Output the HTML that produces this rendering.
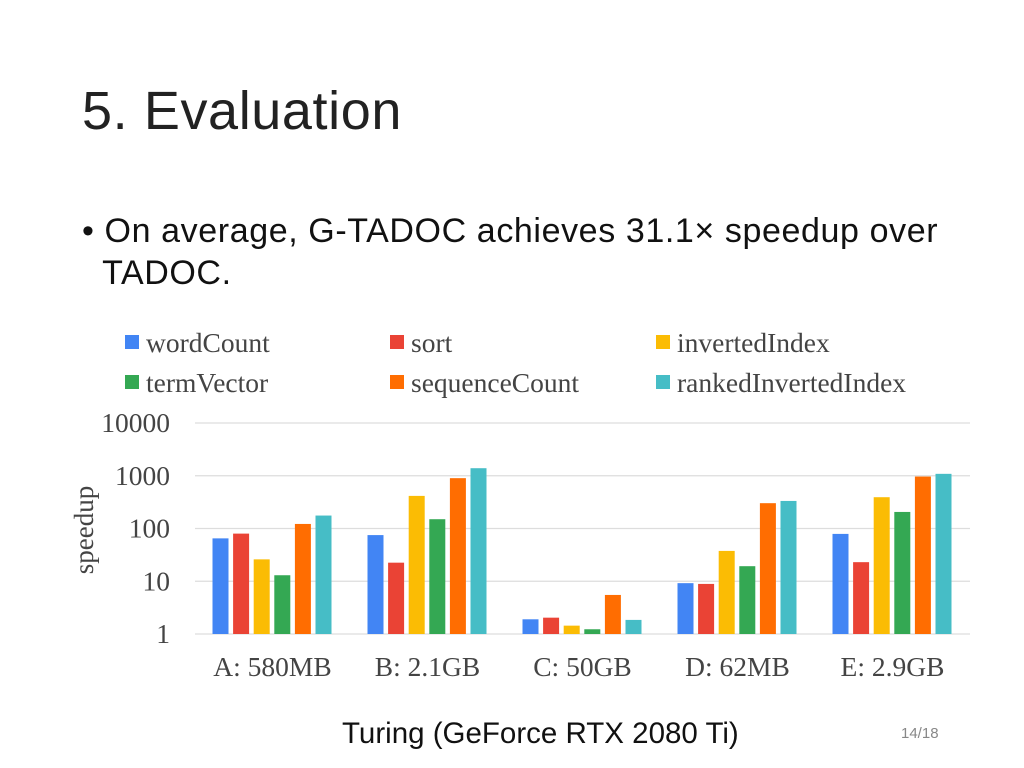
<!DOCTYPE html>
<html><head><meta charset="utf-8"><style>
body{margin:0;width:1024px;height:768px;background:#fff;overflow:hidden;position:relative;font-family:"Liberation Sans",sans-serif}
.t{position:absolute;white-space:nowrap}
</style></head><body>
<div class="t" style="left:82px;top:80px;font-size:54px;color:#222;letter-spacing:0.6px">5. Evaluation</div>
<div class="t" style="left:82px;top:210px;font-size:34px;color:#111;line-height:42px;letter-spacing:0.6px">• On average, G-TADOC achieves 31.1× speedup over<br>&nbsp;&nbsp;TADOC.</div>
<svg id="chart" width="1024" height="768" style="position:absolute;left:0;top:0" font-family="Liberation Serif, serif"></svg>
<div class="t" style="left:342px;top:717px;font-size:29.5px;color:#111">Turing (GeForce RTX 2080 Ti)</div>
<div class="t" style="left:901px;top:725px;font-size:15px;color:#888">14/18</div>
<script>
const categories=["A: 580MB","B: 2.1GB","C: 50GB","D: 62MB","E: 2.9GB"];
const seriesNames=["wordCount","sort","invertedIndex","termVector","sequenceCount","rankedInvertedIndex"];
const colors=["#4285f4","#ea4335","#fbbc04","#34a853","#ff6d01","#46bdc6"];
const wordCount=[65,75,1.9,9.2,79];
const sort=[80,22.5,2.04,8.9,23];
const invertedIndex=[26,415,1.44,37.6,392];
const termVector=[13,150,1.23,19.3,206];
const sequenceCount=[122,900,5.5,302,966];
const rankedInvertedIndex=[176,1390,1.85,333,1087];
const tickValues=[1,10,100,1000,10000];
const tickLabels=["1","10","100","1000","10000"];
const series=[wordCount,sort,invertedIndex,termVector,sequenceCount,rankedInvertedIndex];
const svg=document.getElementById('chart');const NS='http://www.w3.org/2000/svg';
function mk(tag,a,txt){const e=document.createElementNS(NS,tag);for(const k in a)e.setAttribute(k,a[k]);if(txt!==undefined)e.textContent=txt;svg.appendChild(e);return e;}
const x0=195,x1=970,yBase=634,dec=52.75;
const y=v=>yBase-Math.log10(v)*dec;
const gw=(x1-x0)/categories.length;
tickValues.forEach((v,i)=>{
 const l=mk('line',{x1:x0,x2:x1,y1:y(v),y2:y(v),stroke:'#ddd','stroke-width':1.3});
 
 
 const t=mk('text',{x:170,y:y(v)+9,'text-anchor':'end','font-size':27.5,fill:'#444'},tickLabels[i]);
 
 
});
const yt=mk('text',{x:0,y:0,transform:'translate(93,530) rotate(-90)','text-anchor':'middle','font-size':27,fill:'#444'},'speedup');


categories.forEach((c,i)=>{
 const cx=x0+gw*(i+0.5);
 series.forEach((s,j)=>{
  const bx=cx-60+j*20.6;
  const r=mk('rect',{x:bx,y:y(s[i]),width:16,height:yBase-y(s[i]),fill:colors[j]});
  
  
 });
 const t=mk('text',{x:cx,y:676,'text-anchor':'middle','font-size':27.5,fill:'#444'},c);
 
 
});
const lx=[125,390,656];
seriesNames.forEach((n,j)=>{
 const col=j%3,row=Math.floor(j/3);
 const ly=335+row*40;
 const sq=mk('rect',{x:lx[col],y:ly,width:14,height:14,fill:colors[j]});
 
 
 const t=mk('text',{x:lx[col]+21,y:ly+17,'font-size':27.5,fill:'#444'},n);
 
 
});
</script>
</body></html>
